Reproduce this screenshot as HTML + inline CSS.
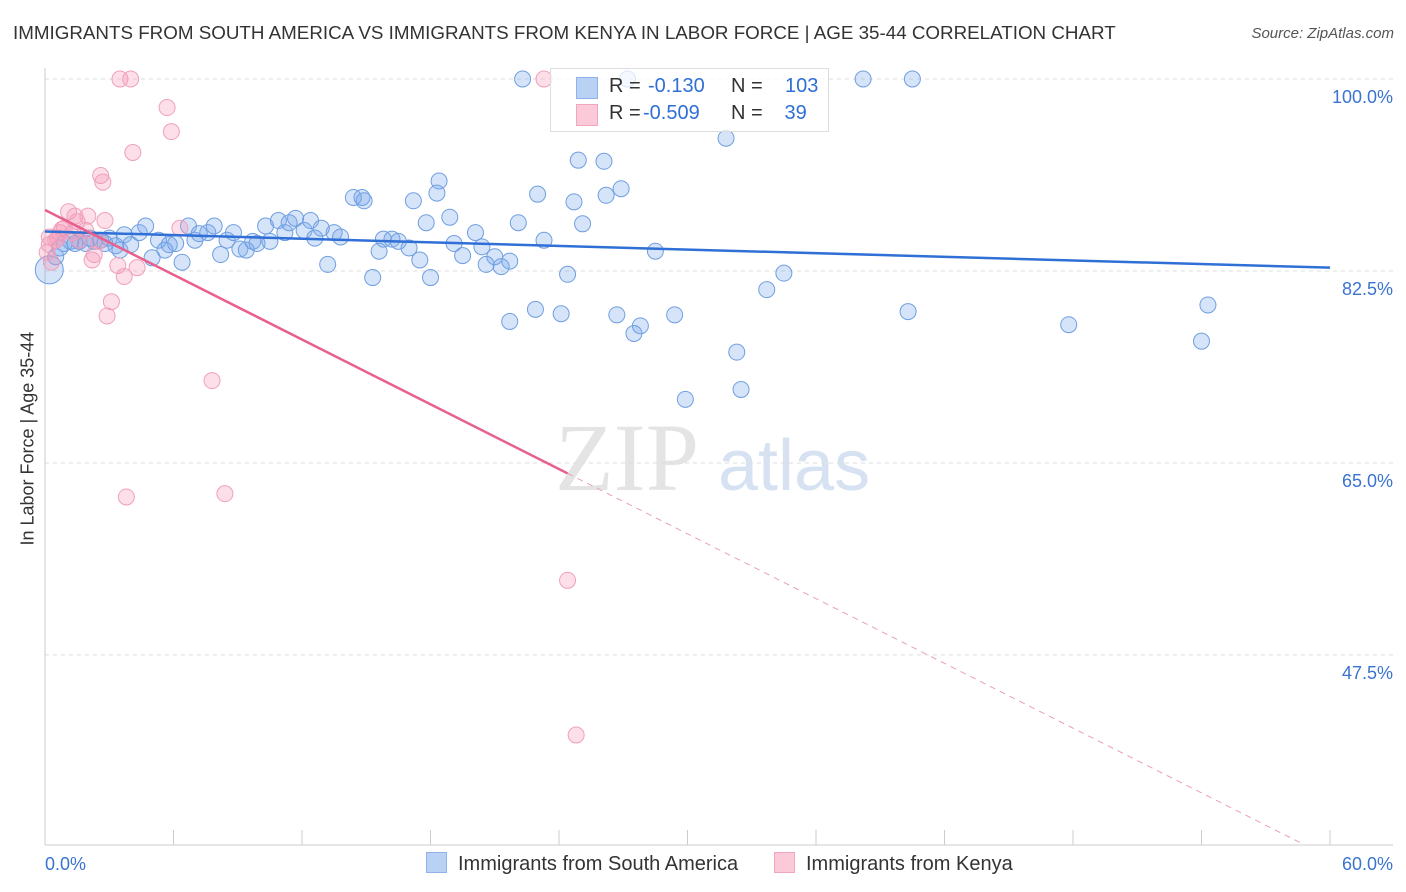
<!DOCTYPE html>
<html><head><meta charset="utf-8"><style>
body{margin:0;background:#fff;font-family:"Liberation Sans",sans-serif;}
#wrap{position:relative;width:1406px;height:892px;overflow:hidden;}
.t{position:absolute;white-space:nowrap;}
</style></head><body>
<div id="wrap">
<div class="t" style="left:13px;top:22px;font-size:18.8px;color:#333;">IMMIGRANTS FROM SOUTH AMERICA VS IMMIGRANTS FROM KENYA IN LABOR FORCE | AGE 35-44 CORRELATION CHART</div>
<div class="t" style="right:12px;top:25px;font-size:15px;color:#555;font-style:italic;">Source: ZipAtlas.com</div>
<div class="t" style="left:-62px;top:445px;font-size:18px;color:#333;transform:rotate(-90deg);width:180px;text-align:center;">In Labor Force | Age 35-44</div>
<svg id="svg" width="1406" height="892" style="position:absolute;left:0;top:0"></svg>
</div>
<script>
const xTicks=[0,60];
const yTicks=[100,82.5,65,47.5];
const blueX=[22.3,27.2,38.2,40.5,31.8,24.9,26.1,18.4,26.9,14.4,14.8,14.9,18.3,23.0,26.2,17.2,24.7,18.9,17.8,22.1,25.1,20.1,23.3,19.1,20.4,15.8,16.2,16.5,17.0,15.6,19.5,21.0,21.7,20.6,21.3,13.2,17.5,15.3,18.0,24.4,28.5,34.5,33.7,21.7,22.9,24.1,26.7,27.5,27.8,29.4,40.3,47.8,54.3,54.0,32.3,32.5,29.9,
0.5,0.7,0.9,1.2,1.4,1.6,1.9,2.1,2.3,2.6,2.8,3.0,3.3,3.5,3.7,4.0,4.4,4.7,5.0,5.3,5.6,5.8,6.1,6.4,6.7,7.0,7.2,7.6,7.9,8.2,8.5,8.8,9.1,9.4,9.7,9.9,10.3,10.5,10.9,11.2,11.4,11.7,12.1,12.4,12.6,12.9,13.5,13.8];
const blueY=[100,100,100,100,94.6,92.6,92.5,90.7,90.0,89.2,89.2,88.9,89.6,89.5,89.4,88.9,88.8,87.4,86.9,86.9,86.8,86.0,85.3,85.0,84.7,85.4,85.4,85.2,84.6,84.3,83.9,83.8,83.4,83.1,82.9,83.1,83.5,81.9,81.9,82.2,84.3,82.3,80.8,77.9,79.0,78.6,78.5,76.8,77.5,78.5,78.8,77.6,79.4,76.1,75.1,71.7,70.8,
83.8,84.6,85.0,85.2,85.0,85.2,85.0,85.5,85.2,85.3,85.0,85.5,84.8,84.4,85.8,84.9,86.0,86.6,83.7,85.3,84.4,84.9,85.0,83.3,86.6,85.3,85.9,86.0,86.6,84.0,85.3,86.0,84.5,84.4,85.2,85.0,86.6,85.2,87.1,86.0,86.9,87.3,86.2,87.1,85.5,86.4,86.0,85.6];
const pinkX=[3.5,4.0,23.3,5.7,5.9,4.1,2.6,2.7,1.1,1.4,2.0,2.8,1.5,0.9,1.3,1.9,0.7,0.5,0.2,0.1,0.3,2.3,2.2,3.4,4.3,3.7,3.1,2.9,6.3,7.8,3.8,8.4,24.4,24.8,0.6,1.6,2.5,0.2,0.8];
const pinkY=[100,100,100,97.4,95.2,93.3,91.2,90.6,87.9,87.5,87.5,87.1,87.0,86.4,86.0,86.2,86.0,85.3,84.9,84.2,83.3,84.0,83.5,83.0,82.8,82.0,79.7,78.4,86.4,72.5,61.9,62.2,54.3,40.2,85.5,85.3,85.2,85.6,86.3];
const blueTrend=[0,86.1,60,82.8];
const pinkTrend=[0,88.06,58.8,30.2];
const pinkSolidEnd=24.4;

const X=v=>45+v/60*1285;
const Y=v=>79+(100-v)*10.97;
const svg=document.getElementById('svg');
const NS='http://www.w3.org/2000/svg';
function mk(tag,a){const e=document.createElementNS(NS,tag);for(const k in a)e.setAttribute(k,a[k]);svg.appendChild(e);return e;}
let wm=mk('text',{x:555,y:490,'font-size':96,fill:'#e4e4e4','font-family':'Liberation Serif, serif'});wm.textContent='ZIP';


let wm2=mk('text',{x:718,y:490,'font-size':72,fill:'#d6e2f2','font-family':'Liberation Sans, sans-serif'});wm2.textContent='atlas';


yTicks.forEach(v=>{
 const g=mk('line',{x1:45,x2:1393,y1:Y(v),y2:Y(v),stroke:'#ddd','stroke-dasharray':'4,4'});
 
 
 const t=mk('text',{x:1393,y:Y(v)+24,'text-anchor':'end','font-size':18,fill:'#3a74d0'});t.textContent=v.toFixed(1)+'%';
 
 
});
let ax=mk('line',{x1:45,x2:45,y1:68,y2:845,stroke:'#ccc'});


let bx=mk('line',{x1:45,x2:1393,y1:845,y2:845,stroke:'#ccc'});


for(let i=0;i<=10;i++){const tk=mk('line',{x1:X(i*6),x2:X(i*6),y1:830,y2:845,stroke:'#ccc'});
 
 }
xTicks.forEach((v,i)=>{const t=mk('text',{x:i==0?45:1393,y:870,'text-anchor':i==0?'start':'end','font-size':18,fill:'#3a74d0'});t.textContent=v.toFixed(1)+'%';
 
 });
function pts(xs,ys,fill,stroke,name){xs.forEach((x,i)=>{const c=mk('circle',{cx:X(x),cy:Y(ys[i]),r:8,fill:fill,stroke:stroke,'stroke-width':1});
 
 });}
pts(blueX,blueY,'rgba(120,165,235,0.3)','#6f9fe0','south-america-point');
let big=mk('circle',{cx:X(0.2),cy:Y(82.6),r:14,fill:'rgba(120,165,235,0.3)',stroke:'#6f9fe0'});


pts(pinkX,pinkY,'rgba(245,150,180,0.3)','#f0a0bc','kenya-point');
let bl=mk('line',{x1:X(blueTrend[0]),y1:Y(blueTrend[1]),x2:X(blueTrend[2]),y2:Y(blueTrend[3]),stroke:'#2f6fd6','stroke-width':2.5});


const py=x=>pinkTrend[1]+(pinkTrend[3]-pinkTrend[1])*(x-pinkTrend[0])/(pinkTrend[2]-pinkTrend[0]);
let pl=mk('line',{x1:X(pinkTrend[0]),y1:Y(pinkTrend[1]),x2:X(pinkSolidEnd),y2:Y(py(pinkSolidEnd)),stroke:'#e8608e','stroke-width':2.5});


let pd=mk('line',{x1:X(pinkSolidEnd),y1:Y(py(pinkSolidEnd)),x2:X(pinkTrend[2]),y2:Y(pinkTrend[3]),stroke:'#e8a0b8','stroke-width':1,'stroke-dasharray':'6,5'});


</script>
<div class="t" style="left:550px;top:68px;width:277px;height:62px;border:1px solid #ddd;background:rgba(255,255,255,0.75);font-size:20px;">
 <div style="position:absolute;left:25px;top:8px;width:20px;height:20px;background:#b9d1f3;border:1px solid #8fb3e8;"></div>
 <div style="position:absolute;left:25px;top:35px;width:20px;height:20px;background:#fbc9d8;border:1px solid #f0a6bf;"></div>
 <div class="t" style="left:58px;top:6px;color:#333;">R = <span style="position:absolute;left:39px;color:#2f6fd6">-0.130</span><span style="position:absolute;left:122px;">N =</span><span style="position:absolute;left:176px;color:#2f6fd6">103</span></div>
 <div class="t" style="left:58px;top:33px;color:#333;">R = <span style="position:absolute;left:34px;color:#2f6fd6">-0.509</span><span style="position:absolute;left:122px;">N =</span><span style="position:absolute;left:170px;color:#2f6fd6">&nbsp;39</span></div>
</div>
<div class="t" style="left:426px;top:852px;font-size:20px;color:#333;"><span style="display:inline-block;width:19px;height:19px;background:#b9d1f3;border:1px solid #8fb3e8;vertical-align:-3px;margin-right:11px;"></span>Immigrants from South America</div>
<div class="t" style="left:774px;top:852px;font-size:20px;color:#333;"><span style="display:inline-block;width:19px;height:19px;background:#fbc9d8;border:1px solid #f0a6bf;vertical-align:-3px;margin-right:11px;"></span>Immigrants from Kenya</div>
</body></html>
